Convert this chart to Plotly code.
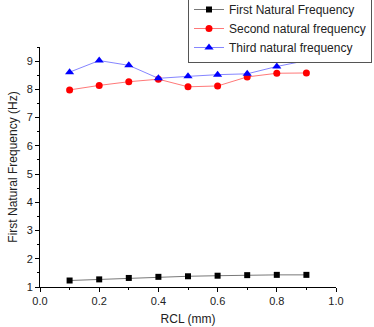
import plotly.graph_objects as go

rcl = [0.1, 0.2, 0.3, 0.4, 0.5, 0.6, 0.7, 0.8, 0.9]
first_freq = [1.23, 1.27, 1.32, 1.36, 1.38, 1.40, 1.42, 1.43, 1.43]
second_freq = [7.98, 8.14, 8.27, 8.36, 8.09, 8.12, 8.44, 8.57, 8.58]
third_freq = [8.61, 9.02, 8.85, 8.39, 8.46, 8.52, 8.55, 8.81, 9.02]

font = "Liberation Sans, Arial, sans-serif"

fig = go.Figure()
fig.add_trace(go.Scatter(x=rcl, y=first_freq, mode="lines+markers",
                         name="First Natural Frequency",
                         line=dict(color="#555555", width=0.8),
                         marker=dict(symbol="square", size=6, color="black")))
fig.add_trace(go.Scatter(x=rcl, y=second_freq, mode="lines+markers",
                         name="Second natural frequency",
                         line=dict(color="#ff5555", width=0.8),
                         marker=dict(symbol="circle", size=7, color="red")))
fig.add_trace(go.Scatter(x=rcl, y=third_freq, mode="lines+markers",
                         name="Third natural frequency",
                         line=dict(color="#6666ff", width=0.8),
                         marker=dict(symbol="triangle-up", size=8, color="blue")))

axis_common = dict(showgrid=False, zeroline=False, showline=True, linecolor="black",
                   linewidth=1, ticks="outside", ticklen=4, tickcolor="black",
                   automargin=False,
                   tickfont=dict(family=font, size=11, color="#222"),
                   minor=dict(ticks="outside", ticklen=2, tickcolor="black"))

H, W = 327, 374
mt, mb, ml, mr = 47, 40, 40, 38
plot_h = H - mb

fig.update_layout(
    width=W, height=H,
    margin=dict(l=ml, r=mr, t=0, b=mb, autoexpand=False),
    paper_bgcolor="white", plot_bgcolor="white",
    font=dict(family=font, size=11, color="#222"),
    xaxis=dict(range=[0, 1.0], dtick=0.2, tickformat=".1f",
               title=dict(text="RCL (mm)", font=dict(size=12), standoff=8),
               minor_dtick=0.1, anchor="y", **axis_common),
    yaxis=dict(range=[1, 9.5], dtick=1, domain=[0, (plot_h - mt) / plot_h],
               title=dict(text="First Natural Frequency (Hz)", font=dict(size=12), standoff=6),
               minor_dtick=0.5, **axis_common),
    legend=dict(x=0.5, y=1.0 + 6 / plot_h, xanchor="left", yanchor="top",
                bordercolor="#555", borderwidth=1, bgcolor="white",
                font=dict(size=12, color="#222"), tracegroupgap=0,
                itemwidth=30),
    showlegend=True,
)

fig.write_html("out.html", config={"displayModeBar": False},
               post_script="document.body.style.margin='0px';")
